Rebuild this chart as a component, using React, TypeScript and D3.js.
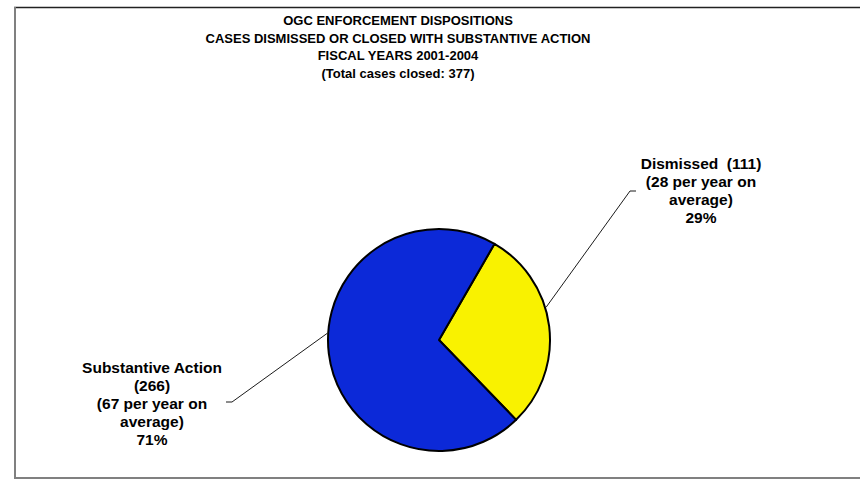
import React from "react";
import { arc, pie, PieArcDatum } from "d3";

// Datos
const categories = ["Dismissed", "Substantive Action"];
const caseCounts = [111, 266];
const perYear = [28, 67];
const percentLabels = ["29%", "71%"];
const sliceColors = ["#f9f200", "#0c29d8"];
const titleLines = [
  "OGC ENFORCEMENT DISPOSITIONS",
  "CASES DISMISSED OR CLOSED WITH SUBSTANTIVE ACTION",
  "FISCAL YEARS 2001-2004",
  "(Total cases closed: 377)",
];

interface Slice {
  name: string;
  value: number;
  perYear: number;
  pct: string;
  color: string;
}

const slices: Slice[] = categories.map((name, i) => ({
  name,
  value: caseCounts[i],
  perYear: perYear[i],
  pct: percentLabels[i],
  color: sliceColors[i],
}));

const toRad = (deg: number) => (deg * Math.PI) / 180;

export default function App() {
  const width = 860;
  const height = 479;
  const cx = 439;
  const cy = 340;
  const radius = 111;
  const font = "'Liberation Sans', Arial, Helvetica, sans-serif";

  // primera porción empieza a ~30° (como en Excel)
  const start = toRad(30);
  const pieGen = pie<Slice>()
    .sort(null)
    .value((d) => d.value)
    .startAngle(start)
    .endAngle(start + 2 * Math.PI);
  const arcs = pieGen(slices);

  const arcGen = arc<PieArcDatum<Slice>>().innerRadius(0).outerRadius(radius);
  // punto sobre el borde para las líneas guía
  const edge = arc<{ startAngle: number; endAngle: number }>()
    .innerRadius(radius + 1)
    .outerRadius(radius + 1);

  // disposición de etiquetas: ángulo de la guía, codo, fin, centro del texto
  const labelLayout = [
    {
      angle: 73,
      elbow: [630, 191],
      end: [636, 191],
      tx: 701,
      ty: 169,
      lines: (s: Slice) => [
        `${s.name}  (${s.value})`,
        `(${s.perYear} per year on`,
        "average)",
        s.pct,
      ],
    },
    {
      angle: 273.4,
      elbow: [232, 402],
      end: [226, 402],
      tx: 152,
      ty: 373,
      lines: (s: Slice) => [
        s.name,
        `(${s.value})`,
        `(${s.perYear} per year on`,
        "average)",
        s.pct,
      ],
    },
  ];

  return (
    <svg
      width={width}
      height={height}
      style={{ position: "absolute", left: 0, top: 0, background: "#fff" }}
    >
      {/* Marco */}
      <line x1={14} y1={7.5} x2={width} y2={7.5} stroke="#222" strokeWidth={1.5} />
      <line x1={15} y1={7} x2={15} y2={height} stroke="#808080" strokeWidth={2} />
      <line x1={14} y1={478} x2={width} y2={478} stroke="#808080" strokeWidth={2} />

      {/* Título */}
      {titleLines.map((t, i) => (
        <text
          key={i}
          x={398}
          y={25 + i * 17.5}
          textAnchor="middle"
          fontFamily={font}
          fontWeight="bold"
          fontSize={13}
          fill="#000"
        >
          {t}
        </text>
      ))}

      {/* Porciones */}
      <g transform={`translate(${cx},${cy})`}>
        {arcs.map((a, i) => (
          <path
            key={i}
            d={arcGen(a) ?? ""}
            fill={a.data.color}
            stroke="#000"
            strokeWidth={2}
            strokeLinejoin="round"
          />
        ))}
      </g>

      {/* Etiquetas y guías */}
      {arcs.map((a, i) => {
        const lay = labelLayout[i];
        const ang = toRad(lay.angle);
        const [px, py] = edge.centroid({ startAngle: ang, endAngle: ang });
        return (
          <g key={i}>
            <polyline
              points={`${cx + px},${cy + py} ${lay.elbow[0]},${lay.elbow[1]} ${lay.end[0]},${lay.end[1]}`}
              fill="none"
              stroke="#000"
              strokeWidth={0.9}
            />
            {lay.lines(a.data).map((t, j) => (
              <text
                key={j}
                x={lay.tx}
                y={lay.ty + j * 18}
                textAnchor="middle"
                fontFamily={font}
                fontWeight="bold"
                fontSize={15.5}
                fill="#000"
                style={{ whiteSpace: "pre" }}
              >
                {t}
              </text>
            ))}
          </g>
        );
      })}
    </svg>
  );
}
